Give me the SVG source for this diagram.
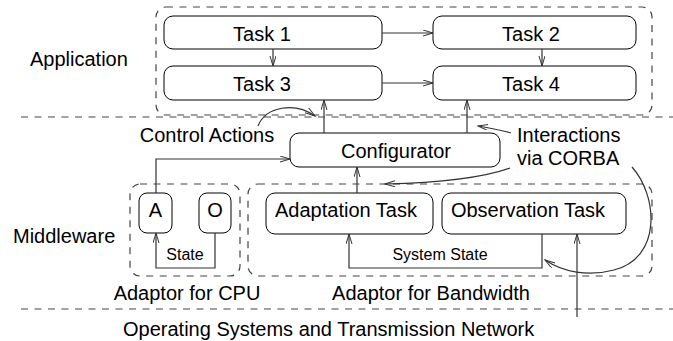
<svg xmlns="http://www.w3.org/2000/svg" width="673" height="341" viewBox="0 0 673 341">
<defs>
<style>
text{font-family:"Liberation Sans",Arial,sans-serif;fill:#000}
.big{font-size:20px}
.sm{font-size:16px}
.box{fill:#fff;stroke:#000;stroke-width:1}
.dash{fill:none;stroke:#444;stroke-width:1.2;stroke-dasharray:7,6.5}
.c{fill:none;stroke:#333;stroke-width:1.2}
</style>
<marker id="ah" markerWidth="12" markerHeight="8" refX="10" refY="3" orient="auto" markerUnits="userSpaceOnUse">
<path d="M0,0 L10,3 L0,6" fill="none" stroke="#333" stroke-width="1"/>
</marker>
</defs>
<rect width="673" height="341" fill="#fff"/>

<g id="layers">
<line x1="21" y1="117" x2="673" y2="117" class="dash"/>
<line x1="21" y1="309" x2="673" y2="309" class="dash"/>
<text class="big" x="30" y="66">Application</text>
<text class="big" x="13" y="243">Middleware</text>
<text class="big" x="123" y="336">Operating Systems and Transmission Network</text>
</g>

<g id="application">
<rect x="156" y="7" width="496" height="108" rx="10" class="dash"/>
</g>
<g id="task1"><rect x="164" y="16" width="218" height="33" rx="9" class="box"/><text class="big" x="262" y="41" text-anchor="middle">Task 1</text></g>
<g id="task2"><rect x="433" y="16" width="203" height="33" rx="9" class="box"/><text class="big" x="531" y="41" text-anchor="middle">Task 2</text></g>
<g id="task3"><rect x="164" y="66" width="218" height="34" rx="9" class="box"/><text class="big" x="262" y="91" text-anchor="middle">Task 3</text></g>
<g id="task4"><rect x="433" y="66" width="203" height="34" rx="9" class="box"/><text class="big" x="531" y="91" text-anchor="middle">Task 4</text></g>

<g id="configurator"><rect x="290" y="133" width="210" height="34" rx="9" class="box"/><text class="big" x="396" y="158" text-anchor="middle">Configurator</text></g>

<g id="cpu-adaptor">
<rect x="130" y="184" width="110" height="92" rx="10" class="dash"/>
<text class="big" x="187" y="300" text-anchor="middle">Adaptor for CPU</text>
</g>
<g id="A"><rect x="139" y="193" width="33" height="40" rx="8" class="box"/><text class="big" x="155.5" y="217" text-anchor="middle">A</text></g>
<g id="O"><rect x="199" y="193" width="32" height="40" rx="8" class="box"/><text class="big" x="215" y="217" text-anchor="middle">O</text></g>

<g id="bw-adaptor">
<rect x="248" y="184" width="404" height="92" rx="10" class="dash"/>
<text class="big" x="431" y="300" text-anchor="middle">Adaptor for Bandwidth</text>
</g>
<g id="adaptation"><rect x="266" y="193" width="167" height="41" rx="9" class="box"/><text class="big" x="346" y="217" text-anchor="middle">Adaptation Task</text></g>
<g id="observation"><rect x="442" y="193" width="184" height="41" rx="9" class="box"/><text class="big" x="528" y="217" text-anchor="middle">Observation Task</text></g>

<g id="connectors">
<line x1="273" y1="49" x2="273" y2="66" class="c" marker-end="url(#ah)"/>
<line x1="542" y1="49" x2="542" y2="66" class="c" marker-end="url(#ah)"/>
<line x1="382" y1="33" x2="433" y2="33" class="c" marker-end="url(#ah)"/>
<line x1="382" y1="83" x2="433" y2="83" class="c" marker-end="url(#ah)"/>
<line x1="324" y1="133" x2="324" y2="100" class="c" marker-end="url(#ah)"/>
<line x1="467" y1="133" x2="467" y2="100" class="c" marker-end="url(#ah)"/>
<line x1="357" y1="193" x2="357" y2="167" class="c" marker-end="url(#ah)"/>
<path d="M156,193 V159 H290" class="c" marker-end="url(#ah)"/>
<path d="M215,233 V268 H156 V233" class="c" marker-end="url(#ah)"/>
<path d="M542,234 V268 H349 V234" class="c" marker-end="url(#ah)"/>
<line x1="577" y1="317" x2="577" y2="234" class="c" marker-end="url(#ah)"/>
<path d="M258,126 C266,106 295,102 315,116" class="c" marker-end="url(#ah)"/>
<path d="M511,133 Q492,128 478,126" class="c" marker-end="url(#ah)"/>
<path d="M510,168 Q470,182 385,184" class="c" marker-end="url(#ah)"/>
<path d="M632,167 C658,196 662,258 614,270 C588,277 563,272 545,260" class="c" marker-end="url(#ah)"/>
<text class="big" x="207" y="142" text-anchor="middle">Control Actions</text>
<text class="big" x="517" y="142">Interactions</text>
<text class="big" x="517" y="165">via CORBA</text>
<text class="sm" x="185" y="260" text-anchor="middle">State</text>
<text class="sm" x="440" y="260" text-anchor="middle">System State</text>
</g>
</svg>
